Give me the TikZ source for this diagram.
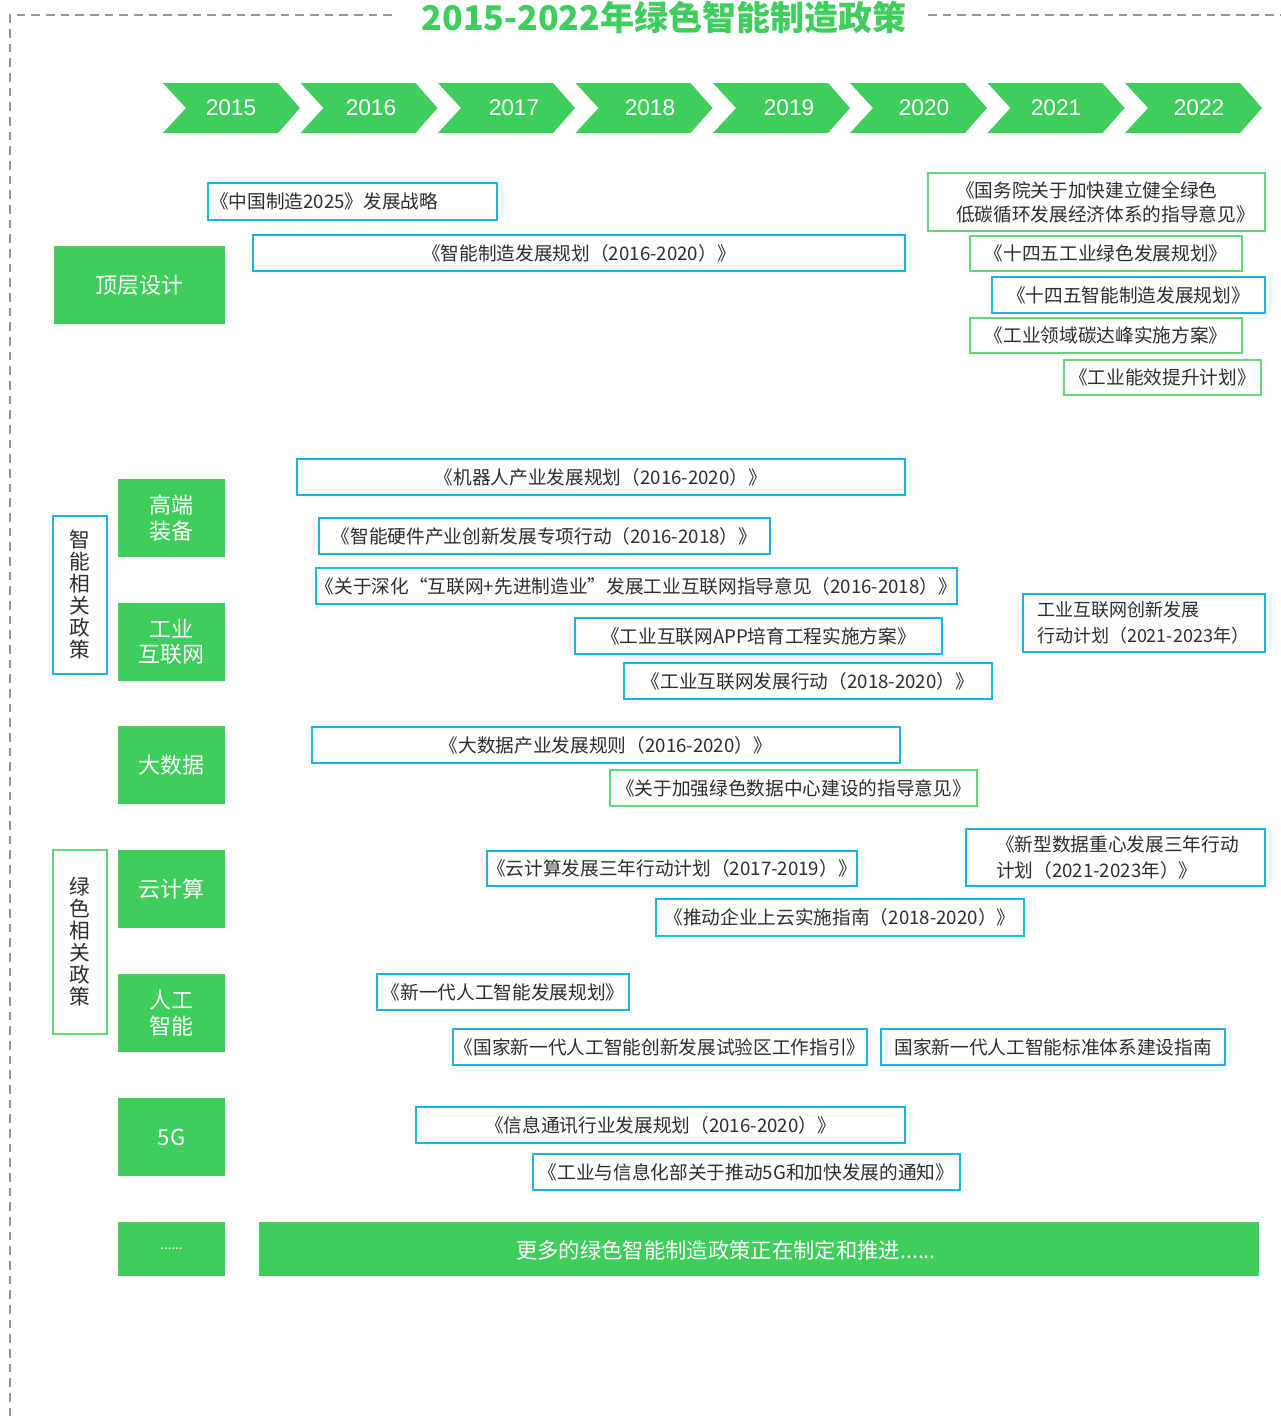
\documentclass[tikz,border=0pt]{standalone}
\usepackage{fontspec}
\setmainfont{Noto Sans CJK SC}
\newfontfamily\latinfont{Liberation Sans}

\definecolor{leaf}{RGB}{63,206,92}
\definecolor{sky}{RGB}{26,180,230}
\definecolor{mint}{RGB}{100,215,125}
\definecolor{ink}{RGB}{45,45,45}
\definecolor{framegray}{RGB}{150,150,155}

% rectangle node from pixel corners: name, x1, y1, x2, y2, style, text
\newcommand{\rectnode}[7]{%
  \pgfmathsetmacro\pbW{(#4-#2)*0.75}%
  \pgfmathsetmacro\pbH{(#5-#3)*0.75}%
  \node[#6, minimum width=\pbW pt, minimum height=\pbH pt] (#1)
    at ({(#2+#4)/2},{(#3+#5)/2}) {#7};}

% same, with left-aligned text and a horizontal padding: name, x1, y1, x2, y2, style, pad, text
\newcommand{\rectnodeL}[8]{%
  \pgfmathsetmacro\pbW{(#4-#2-2*#7)*0.75}%
  \pgfmathsetmacro\pbH{(#5-#3)*0.75}%
  \pgfmathsetmacro\pbP{#7*0.75}%
  \node[#6, text width=\pbW pt, inner xsep=\pbP pt, minimum height=\pbH pt, align=left] (#1)
    at ({(#2+#4)/2},{(#3+#5)/2}) {#8};}

% chevron with its year label: name, left x, label x, year
\newcommand{\chevron}[4]{%
  \fill[leaf] (#2,83) -- ({#2+115},83) -- ({#2+137},108) -- ({#2+115},133)
    -- (#2,133) -- ({#2+23},108) -- cycle;
  \node[yeartext] (#1) at (#3,108) {#4};}

\begin{document}
\begin{tikzpicture}[x=0.75pt,y=-0.75pt,
  frame/.style={draw=framegray, line width=1.5pt, dash pattern=on 6.5pt off 4.5pt},
  titletext/.style={text=leaf, font=\bfseries\fontsize{25.5}{28}\selectfont, inner sep=0},
  yeartext/.style={text=white, font=\latinfont\fontsize{17}{20}\selectfont, inner sep=0},
  catbox/.style={fill=leaf, text=white, font=\fontsize{16.5}{19}\selectfont, align=center, inner sep=0},
  sidebox/.style={fill=white, line width=1.5pt, text=ink, font=\fontsize{15.5}{16.5}\selectfont, align=center, inner sep=0},
  bluebox/.style={draw=sky, line width=1.5pt, fill=white, text=ink, font=\fontsize{14}{19}\selectfont, inner sep=0, align=center},
  greenbox/.style={draw=mint, line width=1.5pt, fill=white, text=ink, font=\fontsize{14}{18}\selectfont, inner sep=0, align=center},
  bartext/.style={text=white, font=\fontsize{16}{19}\selectfont, inner sep=0}
]
\useasboundingbox (0,0) rectangle (1281,1421);

% dashed frame, broken around the heading
\draw[frame] (392,15) -- (10,15) -- (10,1421);
\draw[frame] (928,15) -- (1281,15);
\node[titletext] (title) at (664,17) {2015-2022年绿色智能制造政策};

% timeline
\chevron{y2015}{163}{231}{2015}
\chevron{y2016}{300.5}{371}{2016}
\chevron{y2017}{438}{514}{2017}
\chevron{y2018}{575.5}{650}{2018}
\chevron{y2019}{713}{789}{2019}
\chevron{y2020}{850}{924}{2020}
\chevron{y2021}{987.5}{1056}{2021}
\chevron{y2022}{1125}{1199}{2022}

% category labels
\rectnode{top}{54}{246}{225}{324}{catbox}{顶层设计}
\rectnode{equip}{118}{479}{225}{557}{catbox}{高端\\装备}
\rectnode{iiot}{118}{603}{225}{681}{catbox}{工业\\互联网}
\rectnode{bigdata}{118}{726}{225}{804}{catbox}{大数据}
\rectnode{cloud}{118}{850}{225}{928}{catbox}{云计算}
\rectnode{ai}{118}{974}{225}{1052}{catbox}{人工\\智能}
\rectnode{fiveg}{118}{1098}{225}{1176}{catbox}{5G}
\rectnode{more}{118}{1222}{225}{1276}{catbox, font=\fontsize{10}{12}\selectfont}{......}
\rectnode{bar}{259}{1222}{1259}{1276}{catbox}{}
\node[bartext] (bartxt) at (726,1250) {更多的绿色智能制造政策正在制定和推进......};

% group labels
\rectnode{smart}{53}{516}{107}{674}{sidebox, draw=sky}{智\\能\\相\\关\\政\\策}
\rectnode{green}{53}{850}{107}{1034}{sidebox, draw=mint}{绿\\色\\相\\关\\政\\策}

% top-level design policies
\rectnodeL{p1}{208}{183}{497}{220}{bluebox}{2}{《中国制造2025》发展战略}
\rectnode{p2}{253}{235}{905}{271}{bluebox}{《智能制造发展规划（2016-2020）》}
\rectnodeL{p3}{928}{173}{1265}{231}{greenbox}{28}{\mbox{《国务院关于加快建立健全绿色}\\\mbox{低碳循环发展经济体系的指导意见》}}
\rectnode{p4}{970}{236}{1242}{271}{greenbox}{《十四五工业绿色发展规划》}
\rectnode{p5}{992}{277}{1265}{313}{bluebox}{《十四五智能制造发展规划》}
\rectnode{p6}{970}{318}{1242}{353}{greenbox}{《工业领域碳达峰实施方案》}
\rectnode{p7}{1064}{360}{1261}{395}{greenbox}{《工业能效提升计划》}

% high-end equipment and industrial internet
\rectnode{p8}{297}{459}{905}{495}{bluebox}{《机器人产业发展规划（2016-2020）》}
\rectnode{p9}{319}{518}{770}{554}{bluebox}{《智能硬件产业创新发展专项行动（2016-2018）》}
\rectnode{p10}{319}{568}{954}{604}{bluebox}{《关于深化“互联网+先进制造业”发展工业互联网指导意见（2016-2018）》}
\rectnode{p11}{575}{618}{942}{654}{bluebox}{《工业互联网APP培育工程实施方案》}
\rectnode{p12}{624}{663}{992}{699}{bluebox}{《工业互联网发展行动（2018-2020）》}
\rectnodeL{p13}{1023}{594}{1265}{652}{bluebox, font=\fontsize{13.5}{19.5}\selectfont}{14}{\mbox{工业互联网创新发展}\\\mbox{行动计划（2021-2023年）}}

% big data and cloud
\rectnode{p14}{312}{727}{900}{763}{bluebox}{《大数据产业发展规则（2016-2020）》}
\rectnode{p15}{610}{770}{977}{806}{greenbox}{《关于加强绿色数据中心建设的指导意见》}
\rectnodeL{p16}{966}{829}{1265}{886}{bluebox, font=\fontsize{14}{20}\selectfont}{30}{\mbox{《新型数据重心发展三年行动}\\\mbox{计划（2021-2023年）》}}
\rectnode{p17}{488}{851}{856}{886}{bluebox}{《云计算发展三年行动计划（2017-2019）》}
\rectnode{p18}{656}{899}{1024}{936}{bluebox}{《推动企业上云实施指南（2018-2020）》}

% artificial intelligence
\rectnode{p19}{377}{974}{629}{1010}{bluebox}{《新一代人工智能发展规划》}
\rectnode{p20}{453}{1029}{867}{1065}{bluebox}{《国家新一代人工智能创新发展试验区工作指引》}
\rectnode{p21}{881}{1029}{1225}{1065}{bluebox}{国家新一代人工智能标准体系建设指南}

% 5G
\rectnode{p22}{416}{1107}{905}{1143}{bluebox}{《信息通讯行业发展规划（2016-2020）》}
\rectnode{p23}{533}{1154}{960}{1190}{bluebox}{《工业与信息化部关于推动5G和加快发展的通知》}

\end{tikzpicture}
\end{document}
